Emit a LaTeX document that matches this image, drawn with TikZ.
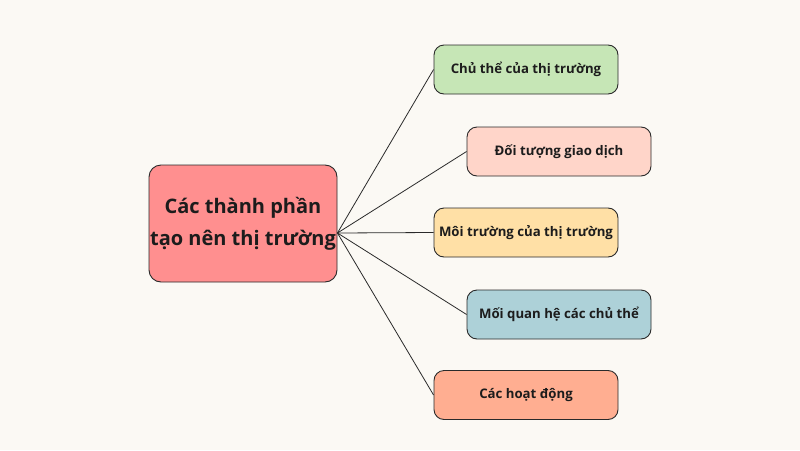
\documentclass[tikz,border=0pt]{standalone}
\usepackage{fontspec}
\setmainfont{Open Sans}
\usetikzlibrary{calc}
\definecolor{bg}{HTML}{FBF9F4}
\definecolor{cmain}{HTML}{FF8F8F}
\definecolor{cgreen}{HTML}{C6E6B6}
\definecolor{cpink}{HTML}{FFD5C9}
\definecolor{cyellow}{HTML}{FFE0A6}
\definecolor{cblue}{HTML}{ADD1D8}
\definecolor{corange}{HTML}{FFAE91}
\definecolor{edge}{HTML}{2A2A2A}
\definecolor{ink}{HTML}{1C1C1C}
\begin{document}
\begin{tikzpicture}[x=1pt,y=-1pt,
  leaf/.style={draw=edge,line width=0.9pt,rounded corners=10pt,minimum width=184pt,minimum height=49pt,inner sep=0pt,font=\fontsize{13.2}{15}\selectfont\bfseries,text=ink},
  hubbox/.style={draw=edge,line width=0.9pt,rounded corners=12pt,minimum width=188pt,minimum height=117pt,inner sep=0pt,align=center,font=\fontsize{20}{32}\selectfont\bfseries,text=ink},
  link/.style={draw=edge,line width=0.8pt}]
\fill[bg] (0,0) rectangle (800,450);
\useasboundingbox (0,0) rectangle (800,450);
\node[hubbox,fill=cmain] (c) at (243,223.5) {Các thành phần\\tạo nên thị trường};
\coordinate (hub) at ($(c.east)+(0,9.5)$);
\node[leaf,fill=cgreen] (b1) at (526,69.5) {Chủ thể của thị trường};
\node[leaf,fill=cpink] (b2) at (559,151.5) {Đối tượng giao dịch};
\node[leaf,fill=cyellow] (b3) at (526,232.5) {Môi trường của thị trường};
\node[leaf,fill=cblue] (b4) at (559,314.5) {Mối quan hệ các chủ thể};
\node[leaf,fill=corange] (b5) at (526,395) {Các hoạt động};
\foreach \b in {b1,b2,b3,b4,b5} \draw[link] (hub) -- (\b.west);
\end{tikzpicture}
\end{document}
